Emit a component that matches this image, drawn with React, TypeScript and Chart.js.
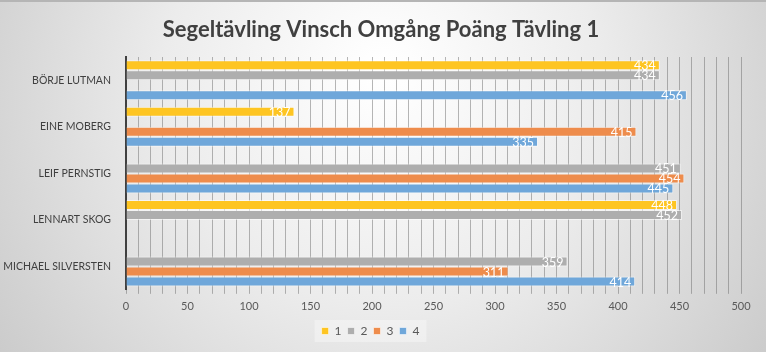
import { useEffect, useRef } from "react";
import { Chart, registerables } from "chart.js";

Chart.register(...registerables);

const categories = ["BÖRJE LUTMAN", "EINE MOBERG", "LEIF PERNSTIG", "LENNART SKOG", "MICHAEL SILVERSTEN"];
const series1 = [434, 137, null, 448, null];
const series2 = [434, null, 451, 452, 359];
const series3 = [null, 415, 454, null, 311];
const series4 = [456, 335, 445, null, 414];
const seriesNames = ["1", "2", "3", "4"];
const seriesColors = ["#FEC522", "#AEAEAE", "#EE8C4C", "#6FA7DA"];
const xMin = 0;
const xMax = 500;
const gridStep = 10;
const labelStep = 50;
const title = "Segeltävling Vinsch Omgång Poäng Tävling 1";

const FONT = "Lato, 'Open Sans', sans-serif";

const bgPlugin = {
  id: "bg",
  beforeDraw(chart: any) {
    const { ctx, width, height } = chart;
    ctx.save();
    const g = ctx.createRadialGradient(width * 0.5, height * 0.2, 10, width * 0.5, height * 0.3, width * 0.62);
    g.addColorStop(0, "#ffffff");
    g.addColorStop(0.45, "#ececec");
    g.addColorStop(1, "#c9c9c9");
    ctx.fillStyle = g;
    ctx.fillRect(0, 0, width, height);
    ctx.fillStyle = "#b5b5b5";
    ctx.fillRect(0, 0, width, 2);
    const lg = chart.legend;
    if (lg && lg.legendHitBoxes && lg.legendHitBoxes.length) {
      const boxes = lg.legendHitBoxes;
      const x0 = boxes[0].left - 7;
      const last = boxes[boxes.length - 1];
      const x1 = last.left + last.width + 7;
      const y0 = boxes[0].top - 5;
      ctx.fillStyle = "rgba(255,255,255,0.35)";
      ctx.fillRect(x0, y0, x1 - x0, boxes[0].height + 10);
    }
    ctx.font = `bold 22px ${FONT}`;
    ctx.fillStyle = "#404040";
    ctx.textAlign = "center";
    ctx.textBaseline = "middle";
    ctx.fillText(title, 381, 30);
    ctx.restore();
  },
};

const valueLabels = {
  id: "valueLabels",
  afterDatasetsDraw(chart: any) {
    const { ctx } = chart;
    ctx.save();
    ctx.font = `12.5px ${FONT}`;
    ctx.fillStyle = "#ffffff";
    ctx.textAlign = "right";
    ctx.textBaseline = "middle";
    chart.data.datasets.forEach((ds: any, i: number) => {
      const meta = chart.getDatasetMeta(i);
      meta.data.forEach((el: any, j: number) => {
        const v = ds.data[j];
        if (v === null || v === undefined) return;
        ctx.fillText(String(v), el.x - 4, el.y + 1);
      });
    });
    ctx.restore();
  },
};

export default function App() {
  const ref = useRef<HTMLCanvasElement>(null);
  useEffect(() => {
    document.body.style.margin = "0";
    const all = [series1, series2, series3, series4];
    const chart = new Chart(ref.current!, {
      type: "bar",
      data: {
        labels: categories,
        datasets: all.map((d, i) => ({
          label: seriesNames[i],
          data: d,
          backgroundColor: seriesColors[i],
          borderColor: "rgba(255,255,255,0.55)",
          borderWidth: 1,
          categoryPercentage: 0.86,
          barPercentage: 1,
          skipNull: false,
        })),
      },
      options: {
        indexAxis: "y",
        animation: false,
        responsive: false,
        layout: { padding: { left: 0, right: 25, top: 57, bottom: 5 } },
        scales: {
          x: {
            min: xMin,
            max: xMax,
            ticks: {
              stepSize: gridStep,
              autoSkip: false,
              maxRotation: 0,
              color: "#595959",
              font: { family: FONT, size: 11 },
              padding: 6,
              callback: (v: any) => (Number(v) % labelStep === 0 ? String(v) : ""),
            },
            grid: { color: "rgba(110,110,110,0.5)", lineWidth: 1, tickLength: 4 },
            border: { display: false },
          },
          y: {
            grid: { display: false },
            border: { display: true, color: "#404040", width: 2 },
            ticks: { color: "#404040", font: { family: FONT, size: 10.5 }, padding: 7 },
            afterFit: (s: any) => {
              s.width = 126;
            },
          },
        },
        plugins: {
          title: { display: false },
          legend: {
            position: "bottom",
            labels: {
              boxWidth: 7,
              boxHeight: 7,
              color: "#595959",
              font: { family: FONT, size: 12 },
              padding: 6,
            },
          },
          tooltip: { enabled: false },
        },
      },
      plugins: [bgPlugin, valueLabels],
    } as any);
    return () => chart.destroy();
  }, []);
  return (
    <div style={{ width: 766, height: 352 }}>
      <canvas ref={ref} width={766} height={352} />
    </div>
  );
}
